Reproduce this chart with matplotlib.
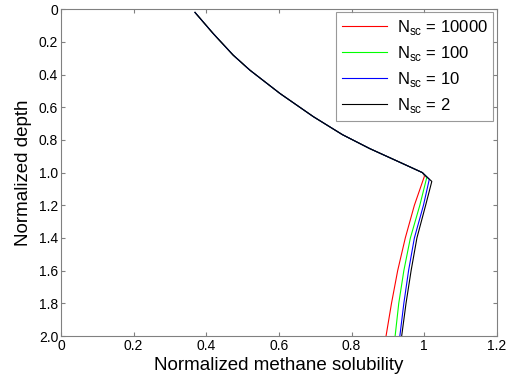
import numpy as np
import matplotlib.pyplot as plt

plt.rcParams['font.family'] = ['Liberation Sans', 'DejaVu Sans']

# branche superieure commune (solubilite, profondeur)
haut_x = [0.369, 0.419, 0.474, 0.520, 0.603, 0.695, 0.775, 0.850, 0.940, 0.995]
haut_y = [0.020, 0.149, 0.281, 0.373, 0.516, 0.658, 0.768, 0.853, 0.944, 1.000]

# branches inferieures pour chaque Nsc
labels = ['N$_{\\mathregular{sc}}$ = 10000', 'N$_{\\mathregular{sc}}$ = 100',
          'N$_{\\mathregular{sc}}$ = 10', 'N$_{\\mathregular{sc}}$ = 2']
couleurs = ['red', 'lime', 'blue', 'black']
bas_y = [1.2, 1.4, 1.6, 1.8, 2.0]
pic_x = [1.001, 1.007, 1.014, 1.021]
pic_y = [1.020, 1.031, 1.042, 1.054]
bas_x = [
    [0.973, 0.948, 0.927, 0.910, 0.895],
    [0.988, 0.962, 0.944, 0.930, 0.920],
    [0.998, 0.973, 0.957, 0.944, 0.933],
    [1.004, 0.980, 0.964, 0.950, 0.938],
]

fig = plt.figure(figsize=(5.08, 3.81), dpi=100)
ax = fig.add_axes([0.12, 0.118, 0.858, 0.858])

for i in range(4):
    xs = haut_x + [pic_x[i]] + bas_x[i]
    ys = haut_y + [pic_y[i]] + bas_y
    ax.plot(xs, ys, color=couleurs[i], lw=0.8, label=labels[i])

ax.set_xlim(0, 1.2)
ax.set_ylim(2.0, 0)
ax.set_xticks(np.arange(0, 1.21, 0.2))
ax.set_xticklabels(['0', '0.2', '0.4', '0.6', '0.8', '1', '1.2'])
ax.set_yticks(np.arange(0, 2.01, 0.2))
ax.set_yticklabels(['0', '0.2', '0.4', '0.6', '0.8', '1.0', '1.2', '1.4', '1.6', '1.8', '2.0'])
ax.tick_params(direction='in', top=True, right=True, labelsize=10, length=3,
               color='#808080', pad=2)
for s in ax.spines.values():
    s.set_color('#808080')
ax.set_xlabel('Normalized methane solubility', fontsize=13.5, labelpad=3)
ax.set_ylabel('Normalized depth', fontsize=13.5, labelpad=5)

leg = ax.legend(loc='upper right', fontsize=12, fancybox=False, handlelength=2.7,
                borderaxespad=0.2, labelspacing=0.42, handletextpad=0.6,
                borderpad=0.35)
leg.get_frame().set_edgecolor('#808080')
leg.get_frame().set_linewidth(0.8)

fig.savefig('out.png', dpi=100)
